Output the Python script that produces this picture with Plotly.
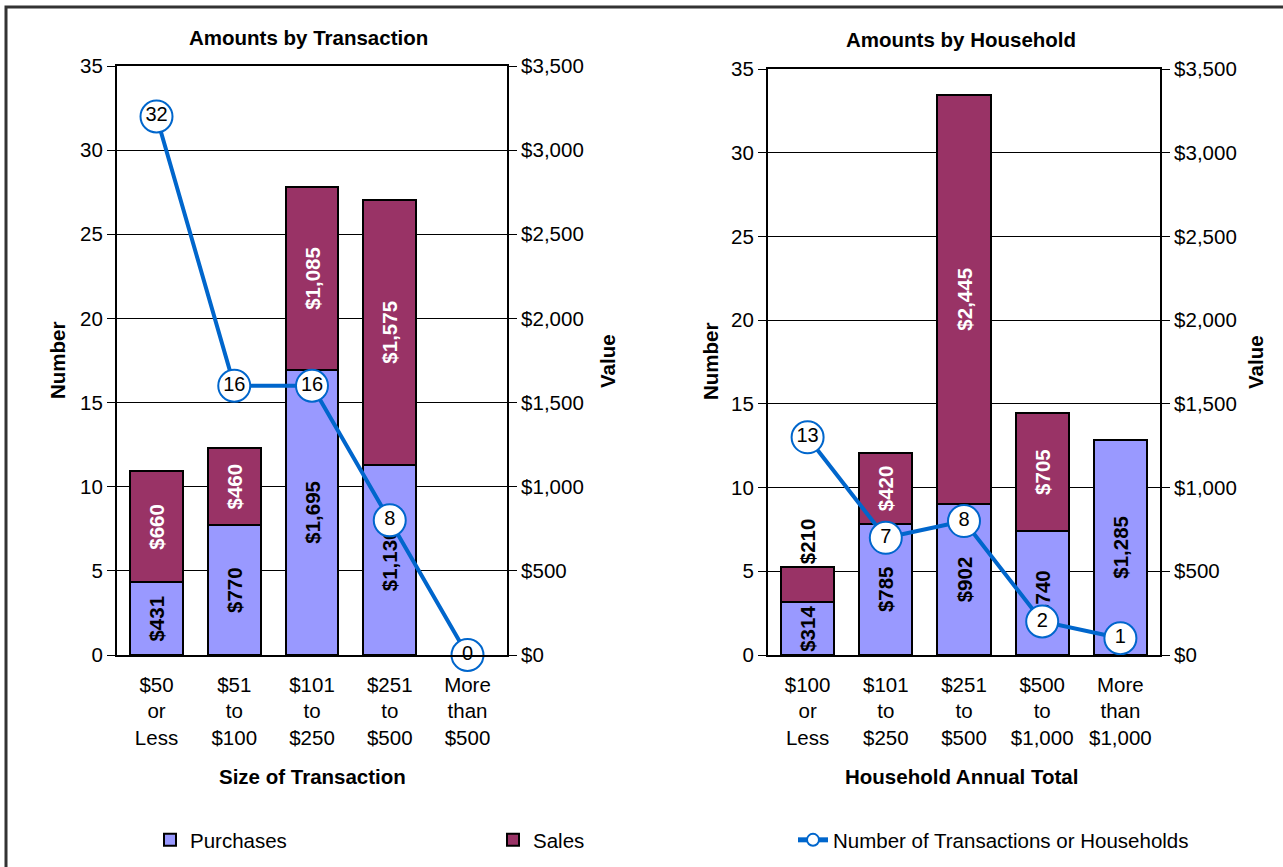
import plotly.graph_objects as go

# ---------------- data ----------------
tx_categories = ["$50<br>or<br>Less", "$51<br>to<br>$100", "$101<br>to<br>$250",
                 "$251<br>to<br>$500", "More<br>than<br>$500"]
tx_purchases = [431, 770, 1695, 1130, 0]
tx_sales = [660, 460, 1085, 1575, 0]
tx_count = [32, 16, 16, 8, 0]

hh_categories = ["$100<br>or<br>Less", "$101<br>to<br>$250", "$251<br>to<br>$500",
                 "$500<br>to<br>$1,000", "More<br>than<br>$1,000"]
hh_purchases = [314, 785, 902, 740, 1285]
hh_sales = [210, 420, 2445, 705, 0]
hh_count = [13, 7, 8, 2, 1]

value_ticks = [0, 500, 1000, 1500, 2000, 2500, 3000, 3500]
value_ticklabels = ["$0", "$500", "$1,000", "$1,500", "$2,000", "$2,500", "$3,000", "$3,500"]
number_ticks = [0, 5, 10, 15, 20, 25, 30, 35]

# ---------------- style ----------------
W, H = 1283, 867
FONT = "Liberation Sans, Arial, sans-serif"
C_PUR = "#9999FF"
C_SAL = "#993366"
C_LINE = "#0066CC"
TICK = 20.5
BOLD = 20.5


def px_x(p):
    return p / W


def px_y(p):
    return 1 - p / H


def money(v):
    return f"${v:,}" if v else ""


def outline(vals):
    return [2 if v else 0 for v in vals]


fig = go.Figure()

panels = [
    dict(cats=tx_categories, pur=tx_purchases, sal=tx_sales, cnt=tx_count,
         xa="x", ya="y", ya2="y2", legend=True,
         sal_pos=["inside"] * 5),
    dict(cats=hh_categories, pur=hh_purchases, sal=hh_sales, cnt=hh_count,
         xa="x2", ya="y3", ya2="y4", legend=False,
         sal_pos=["outside", "inside", "inside", "inside", "inside"]),
]

for p in panels:
    fig.add_trace(go.Bar(
        x=p["cats"], y=p["pur"], name="Purchases",
        marker=dict(color=C_PUR, line=dict(color="black", width=outline(p["pur"]))),
        text=[money(v) for v in p["pur"]], textposition="inside",
        insidetextanchor="middle", textangle=-90, constraintext="none",
        textfont=dict(family=FONT, size=BOLD, color="black", weight="bold"),
        xaxis=p["xa"], yaxis=p["ya"], showlegend=p["legend"], legend="legend",
        hoverinfo="skip",
    ))
    fig.add_trace(go.Bar(
        x=p["cats"], y=p["sal"], name="Sales",
        marker=dict(color=C_SAL, line=dict(color="black", width=outline(p["sal"]))),
        text=[money(v) for v in p["sal"]], textposition=p["sal_pos"],
        insidetextanchor="middle", textangle=-90, constraintext="none",
        insidetextfont=dict(family=FONT, size=BOLD, color="white", weight="bold"),
        outsidetextfont=dict(family=FONT, size=BOLD, color="black", weight="bold"),
        xaxis=p["xa"], yaxis=p["ya"], showlegend=p["legend"], legend="legend2",
        hoverinfo="skip",
    ))
    fig.add_trace(go.Scatter(
        x=p["cats"], y=p["cnt"], name="Number of Transactions or Households",
        mode="lines+markers",
        line=dict(color=C_LINE, width=4),
        marker=dict(size=32, color="white", line=dict(color=C_LINE, width=2)),
        cliponaxis=False,
        xaxis=p["xa"], yaxis=p["ya2"], showlegend=p["legend"], legend="legend3",
        hoverinfo="skip",
    ))
    fig.add_trace(go.Scatter(
        x=p["cats"], y=p["cnt"], mode="text",
        text=[str(v) for v in p["cnt"]], textposition="middle center",
        textfont=dict(family=FONT, size=20, color="black"),
        cliponaxis=False, showlegend=False,
        xaxis=p["xa"], yaxis=p["ya2"], hoverinfo="skip",
    ))

xcommon = dict(type="category", showline=True, linecolor="black", linewidth=2,
               mirror=True, ticks="", showgrid=False, automargin=False,
               ticklabelstandoff=10,
               tickfont=dict(family=FONT, size=TICK, color="black"))
val_axis = dict(range=[0, 3500], tickvals=value_ticks, ticktext=value_ticklabels,
                side="right", showline=True, linecolor="black", linewidth=2,
                mirror=True, ticks="outside", ticklen=8, tickcolor="black",
                showgrid=True, gridcolor="black", gridwidth=1, automargin=False,
                tickfont=dict(family=FONT, size=TICK, color="black"), zeroline=False)
num_axis = dict(range=[0, 35], tickvals=number_ticks, side="left",
                showline=True, linecolor="black", linewidth=2, automargin=False,
                ticks="outside", ticklen=8, tickcolor="black", showgrid=False,
                tickfont=dict(family=FONT, size=TICK, color="black"), zeroline=False)

leg_common = dict(orientation="h", y=px_y(840), xanchor="left", yanchor="middle",
                  font=dict(family=FONT, size=TICK, color="black"),
                  bgcolor="rgba(0,0,0,0)", itemsizing="constant")

fig.update_layout(
    xaxis=dict(xcommon, domain=[px_x(117), px_x(507)], anchor="y"),
    yaxis=dict(val_axis, domain=[px_y(655), px_y(66)], anchor="x"),
    yaxis2=dict(num_axis, overlaying="y", anchor="x"),
    xaxis2=dict(xcommon, domain=[px_x(768), px_x(1160)], anchor="y3"),
    yaxis3=dict(val_axis, domain=[px_y(655), px_y(69)], anchor="x2"),
    yaxis4=dict(num_axis, overlaying="y3", anchor="x2"),
    barmode="stack", bargap=0.32,
    width=W, height=H,
    margin=dict(l=0, r=0, t=0, b=0, pad=0, autoexpand=False),
    paper_bgcolor="white", plot_bgcolor="white",
    font=dict(family=FONT, color="black"),
    legend=dict(leg_common, x=px_x(150)),
    legend2=dict(leg_common, x=px_x(493)),
    legend3=dict(leg_common, x=px_x(793)),
)

ann = [
    ("<b>Amounts by Transaction</b>", 308, 37, 0),
    ("<b>Amounts by Household</b>", 961, 40, 0),
    ("<b>Number</b>", 57, 361, -90),
    ("<b>Value</b>", 607, 361, -90),
    ("<b>Number</b>", 710, 362, -90),
    ("<b>Value</b>", 1255, 362, -90),
    ("<b>Size of Transaction</b>", 312, 776, 0),
    ("<b>Household Annual Total</b>", 962, 776, 0),
]
for txt, x, y, ang in ann:
    fig.add_annotation(text=txt, x=px_x(x), y=px_y(y), xref="paper", yref="paper",
                       showarrow=False, textangle=ang, xanchor="center", yanchor="middle",
                       font=dict(family=FONT, size=BOLD, color="black"))

fig.add_shape(type="rect", xref="paper", yref="paper",
              x0=px_x(6), y0=-0.05, x1=1.05, y1=px_y(7),
              line=dict(color="#333333", width=3), fillcolor="rgba(0,0,0,0)", layer="below")

fig.write_html("out.html", config={"displayModeBar": False},
               post_script="document.body.style.margin='0px';document.body.style.overflow='hidden';")
